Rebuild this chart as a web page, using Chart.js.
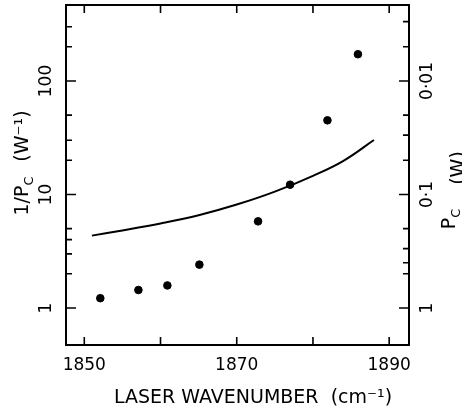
<!DOCTYPE html>
<html>
<head>
<meta charset="utf-8">
<script src="https://cdn.jsdelivr.net/npm/chart.js@4"></script>
<style>
  html, body { margin: 0; padding: 0; background: #fff; }
  canvas { display: block; }
</style>
</head>
<body>
<canvas id="chart" width="462" height="408"></canvas>
<script>
const FONT = "'DejaVu Sans', 'Liberation Sans', sans-serif";

// wavenumber axis
const xLabels = [1850, 1870, 1890];
const xTickMarks = [1850, 1860, 1870, 1880, 1890];

// left axis: 1/Pc (W^-1)
const leftLabels = [1, 10, 100];
const leftMinor = [2, 3, 4, 5, 20, 30, 50, 200, 300];

// right axis: Pc (W)
const rightLabels = [0.01, 0.1, 1];
const rightText = ['0·01', '0·1', '1'];
const rightMinor = [0.003, 0.005, 0.02, 0.03, 0.05, 0.2, 0.3, 0.4, 0.5];

// measured points
const measX = [1852.1, 1857.1, 1860.9, 1865.1, 1872.8, 1877.0, 1881.9, 1885.9];
const measY = [1.22, 1.44, 1.58, 2.41, 5.8, 12.2, 45, 172];

// calculated curve
const fitX = [1851, 1855, 1860, 1865, 1870, 1875, 1880, 1884, 1888];
const fitY = [4.34, 4.82, 5.55, 6.56, 8.15, 10.6, 14.6, 19.8, 30.2];

function vText(ctx, str, x, y, size) {
  ctx.save();
  ctx.translate(x, y);
  ctx.rotate(-Math.PI / 2);
  ctx.font = size + 'px ' + FONT;
  ctx.textAlign = 'center';
  ctx.textBaseline = 'alphabetic';
  ctx.fillText(str, 0, 0);
  ctx.restore();
}

// P with subscript C, rotated, centred on y, baseline at x
function vPc(ctx, pre, x, y) {
  ctx.save();
  ctx.translate(x, y);
  ctx.rotate(-Math.PI / 2);
  ctx.textBaseline = 'alphabetic';
  ctx.textAlign = 'left';
  ctx.font = '19px ' + FONT;
  const w1 = ctx.measureText(pre).width;
  ctx.font = '13px ' + FONT;
  const w2 = ctx.measureText('C').width;
  const start = -(w1 + w2) / 2;
  ctx.font = '19px ' + FONT;
  ctx.fillText(pre, start, 0);
  ctx.font = '13px ' + FONT;
  ctx.fillText('C', start + w1, 5);
  ctx.restore();
}

const frame = {
  id: 'frame',
  afterDraw(chart) {
    const { ctx, chartArea: a, scales: { x, y } } = chart;
    ctx.save();
    ctx.strokeStyle = '#000';
    ctx.fillStyle = '#000';
    ctx.lineWidth = 2;
    ctx.strokeRect(a.left, a.top, a.right - a.left, a.bottom - a.top);

    ctx.lineWidth = 1.6;
    ctx.beginPath();
    xTickMarks.forEach(v => {
      const px = x.getPixelForValue(v);
      ctx.moveTo(px, a.bottom); ctx.lineTo(px, a.bottom - 8);
      ctx.moveTo(px, a.top); ctx.lineTo(px, a.top + 8);
    });
    leftLabels.forEach(v => {
      const py = y.getPixelForValue(v);
      ctx.moveTo(a.left, py); ctx.lineTo(a.left + 10, py);
    });
    leftMinor.forEach(v => {
      const py = y.getPixelForValue(v);
      ctx.moveTo(a.left, py); ctx.lineTo(a.left + 6, py);
    });
    rightLabels.forEach(p => {
      const py = y.getPixelForValue(1 / p);
      ctx.moveTo(a.right, py); ctx.lineTo(a.right - 10, py);
    });
    rightMinor.forEach(p => {
      const py = y.getPixelForValue(1 / p);
      ctx.moveTo(a.right, py); ctx.lineTo(a.right - 6, py);
    });
    ctx.stroke();

    leftLabels.forEach(v => vText(ctx, String(v), 51, y.getPixelForValue(v), 17));
    rightLabels.forEach((p, i) => vText(ctx, rightText[i], 432, y.getPixelForValue(1 / p), 17));

    // axis titles
    vPc(ctx, '1/P', 28, 196);
    vText(ctx, '(W⁻¹)', 28, 136, 19);
    vPc(ctx, 'P', 455, 219);
    vText(ctx, '(W)', 464, 168, 19);

    ctx.font = '19px ' + FONT;
    ctx.textAlign = 'center';
    ctx.textBaseline = 'alphabetic';
    ctx.fillText('LASER WAVENUMBER  (cm⁻¹)', 253, 403);
    ctx.restore();
  }
};

new Chart(document.getElementById('chart'), {
  type: 'scatter',
  data: {
    datasets: [{
      label: 'measured',
      data: measX.map((v, i) => ({ x: v, y: measY[i] })),
      backgroundColor: '#000',
      borderColor: '#000',
      pointRadius: 3.8,
      showLine: false
    }, {
      label: 'calculated',
      data: fitX.map((v, i) => ({ x: v, y: fitY[i] })),
      borderColor: '#000',
      borderWidth: 2,
      pointRadius: 0,
      showLine: true,
      tension: 0.4
    }]
  },
  options: {
    responsive: false,
    animation: false,
    devicePixelRatio: 1,
    layout: { padding: { top: 5, right: 53, bottom: 0, left: 0 } },
    plugins: { legend: { display: false }, tooltip: { enabled: false } },
    scales: {
      x: {
        type: 'linear',
        min: 1847.6,
        max: 1892.6,
        grid: { display: false, drawTicks: false },
        border: { display: false },
        afterBuildTicks: s => { s.ticks = xLabels.map(v => ({ value: v })); },
        afterFit: s => { s.height = 63; },
        ticks: {
          color: '#000',
          font: { family: FONT, size: 17 },
          padding: 10,
          maxRotation: 0,
          autoSkip: false,
          callback: v => String(v)
        }
      },
      y: {
        type: 'logarithmic',
        min: 0.472,
        max: 467,
        grid: { display: false, drawTicks: false },
        border: { display: false },
        ticks: { display: false },
        afterFit: s => { s.width = 66; }
      }
    }
  },
  plugins: [frame]
});
</script>
</body>
</html>
